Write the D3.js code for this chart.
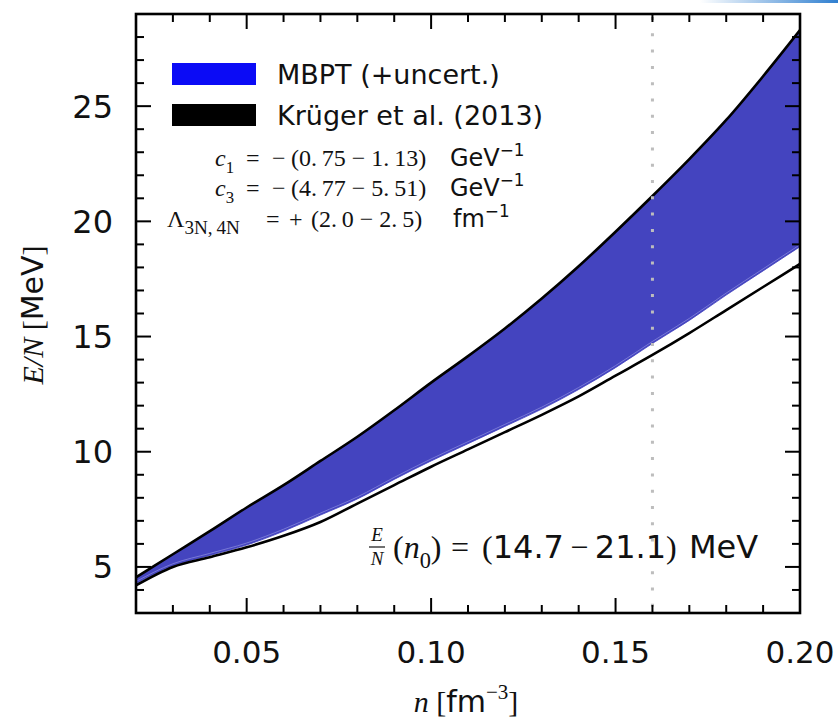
<!DOCTYPE html>
<html>
<head>
<meta charset="utf-8">
<script src="https://cdn.jsdelivr.net/npm/d3@7"></script>
<style>
  body { margin: 0; background: #fff; }
  text { font-family: "DejaVu Sans", sans-serif; fill: #111; }
</style>
</head>
<body>
<div id="chart"></div>
<script>
// neutron matter energy per particle
let density = [0.02, 0.03, 0.04, 0.05, 0.06, 0.07, 0.08, 0.09, 0.10, 0.11,
               0.12, 0.13, 0.14, 0.15, 0.16, 0.17, 0.18, 0.19, 0.20]

let mbptUpper = [4.55, 5.55, 6.55, 7.58, 8.55, 9.6, 10.65, 11.8, 13.0, 14.15,
                 15.35, 16.65, 18.05, 19.55, 21.1, 22.7, 24.4, 26.3, 28.3]
let mbptLower = [4.28, 5.05, 5.5, 5.95, 6.55, 7.25, 7.95, 8.8, 9.6, 10.35,
                 11.1, 11.85, 12.7, 13.65, 14.7, 15.7, 16.8, 17.85, 18.9]

let krugerUpper = [4.55, 5.55, 6.55, 7.58, 8.55, 9.6, 10.65, 11.8, 13.0, 14.15,
                   15.35, 16.65, 18.05, 19.55, 21.1, 22.7, 24.4, 26.3, 28.3]
let krugerLower = [4.2, 5.0, 5.42, 5.85, 6.35, 6.95, 7.75, 8.55, 9.35, 10.1,
                   10.85, 11.6, 12.4, 13.3, 14.2, 15.15, 16.15, 17.15, 18.15]

let xMajor = [0.05, 0.10, 0.15, 0.20]
let xMinor = [0.03, 0.04, 0.06, 0.07, 0.08, 0.09, 0.11, 0.12, 0.13, 0.14, 0.16, 0.17, 0.18, 0.19]
let yMajor = [5, 10, 15, 20, 25]
let yMinor = [4, 6, 7, 8, 9, 11, 12, 13, 14, 16, 17, 18, 19, 21, 22, 23, 24, 26, 27, 28]
let saturation = 0.16

let W = 838, H = 719
let L = 136, R = 800, T = 14, B = 613

let svg = d3.select("#chart").append("svg")
  .attr("width", W)
  .attr("height", H)

// thin blue strip in the top right corner of the original image
let grad = svg.append("defs").append("linearGradient").attr("id", "strip")
grad.append("stop").attr("offset", "0%").attr("stop-color", "#ffffff")
grad.append("stop").attr("offset", "100%").attr("stop-color", "#2f7fd0")
svg.append("rect").attr("x", 700).attr("y", 0).attr("width", 138).attr("height", 3)
   .style("fill", "url(#strip)")

let x = d3.scaleLinear().domain([0.02, 0.20]).range([L, R])
let y = d3.scaleLinear().domain([3, 29]).range([B, T])

let rows = density.map((n, i) => ({
  n: n, mu: mbptUpper[i], ml: mbptLower[i], ku: krugerUpper[i], kl: krugerLower[i]
}))

let clip = svg.append("clipPath").attr("id", "plotclip")
clip.append("rect").attr("x", L).attr("y", T).attr("width", R - L).attr("height", B - T)

let plot = svg.append("g").attr("clip-path", "url(#plotclip)")

let curve = d3.curveMonotoneX

// MBPT band
let band = d3.area()
  .x(d => x(d.n))
  .y0(d => y(d.ml))
  .y1(d => y(d.mu))
  .curve(curve)

plot.append("path")
  .datum(rows)
  .attr("d", band)
  .style("fill", "#4444bf")
  .style("stroke", "#4444bf")
  .style("stroke-width", 0.8)

// faint light edge just inside the lower band border
plot.append("path")
  .datum(rows)
  .attr("d", d3.line().x(d => x(d.n)).y(d => y(d.ml) - 2).curve(curve))
  .style("fill", "none")
  .style("stroke", "#8585dc")
  .style("stroke-width", 0.8)

// Krüger et al. bounds
let upperLine = d3.line().x(d => x(d.n)).y(d => y(d.ku)).curve(curve)
let lowerLine = d3.line().x(d => x(d.n)).y(d => y(d.kl)).curve(curve)

plot.append("path").datum(rows).attr("d", upperLine)
  .style("fill", "none").style("stroke", "#000").style("stroke-width", 2.6)
plot.append("path").datum(rows).attr("d", lowerLine)
  .style("fill", "none").style("stroke", "#000").style("stroke-width", 2.6)

// saturation density marker
plot.append("line")
  .attr("x1", x(saturation)).attr("x2", x(saturation))
  .attr("y1", T + 3).attr("y2", B)
  .style("stroke", "#bdbdbd")
  .style("stroke-width", 3)
  .style("stroke-dasharray", "3,13.3")

// frame
svg.append("rect")
  .attr("x", L).attr("y", T).attr("width", R - L).attr("height", B - T)
  .style("fill", "none").style("stroke", "#000").style("stroke-width", 2.6)

// ticks pointing inwards on all four sides
let tickG = svg.append("g")
function xTicks(vals, len) {
  [[B, -1], [T, 1]].forEach(s => {
    tickG.selectAll(null).data(vals).enter().append("line")
      .attr("x1", d => x(d)).attr("x2", d => x(d))
      .attr("y1", s[0]).attr("y2", s[0] + s[1] * len)
      .attr("stroke", "#000").attr("stroke-width", 2)
  })
}
function yTicks(vals, len) {
  [[L, 1], [R, -1]].forEach(s => {
    tickG.selectAll(null).data(vals).enter().append("line")
      .attr("y1", d => y(d)).attr("y2", d => y(d))
      .attr("x1", s[0]).attr("x2", s[0] + s[1] * len)
      .attr("stroke", "#000").attr("stroke-width", 2)
  })
}
xTicks(xMajor, 15)
xTicks(xMinor, 8)
yTicks(yMajor, 15)
yTicks(yMinor, 8)

// tick labels
svg.append("g").selectAll("text").data(xMajor).enter().append("text")
  .attr("x", d => x(d)).attr("y", B + 50)
  .attr("text-anchor", "middle")
  .style("font-size", "31px")
  .text(d3.format(".2f"))
svg.append("g").selectAll("text").data(yMajor).enter().append("text")
  .attr("x", L - 23).attr("y", d => y(d) + 11.5)
  .attr("text-anchor", "end")
  .style("font-size", "32px")
  .text(d3.format("d"))

// write a run of math-like text pieces into one text element
let serif = "'Liberation Serif', 'DejaVu Serif', serif"
function mathText(xp, yp, size, parts, anchor) {
  let t = svg.append("text").attr("x", xp).attr("y", yp)
    .style("font-size", size + "px")
    .attr("text-anchor", anchor || "start")
  let shift = 0
  parts.forEach(p => {
    let s = t.append("tspan").text(p.t)
    let want = 0
    if (p.k == "sub") want = size * 0.3
    if (p.k == "sup") want = -size * 0.42
    if (want != shift) { s.attr("dy", want - shift); shift = want }
    if (p.x != null) s.attr("x", p.x)
    if (p.k == "i") s.style("font-family", serif).style("font-style", "italic")
    if (p.k == "r") s.style("font-family", serif)
    if (p.k == "sub") s.style("font-family", serif).style("font-size", (size * (p.z || 0.7)) + "px")
    if (p.k == "sup") s.style("font-size", (size * 0.7) + "px")
    if (p.f) s.style("font-family", p.f)
  })
  return t
}

// legend
let legendItems = [
  {label: "MBPT (+uncert.)", color: "#0b0bf6", y: 63},
  {label: "Krüger et al. (2013)", color: "#000000", y: 104}
]
legendItems.forEach(d => {
  svg.append("rect").attr("x", 172).attr("y", d.y).attr("width", 84).attr("height", 22)
    .style("fill", d.color)
  svg.append("text").attr("x", 277).attr("y", d.y + 21)
    .style("font-size", "27px").text(d.label)
})

// parameter ranges
let th = "\u2009", sp = "\u2005"
mathText(215, 166, 24, [
  {t: "c", k: "i"}, {t: "1", k: "sub"}, {t: "=", k: "r", x: 246}, {t: "−", k: "r", x: 272},
  {t: "(0." + th + "75" + sp + "−" + sp + "1." + th + "13)", k: "r", x: 291},
  {t: "GeV", k: "s", x: 450}, {t: "−1", k: "sup"}
])
mathText(215, 196, 24, [
  {t: "c", k: "i"}, {t: "3", k: "sub"}, {t: "=", k: "r", x: 246}, {t: "−", k: "r", x: 272},
  {t: "(4." + th + "77" + sp + "−" + sp + "5." + th + "51)", k: "r", x: 291},
  {t: "GeV", k: "s", x: 450}, {t: "−1", k: "sup"}
])
mathText(167, 227, 24, [
  {t: "Λ", k: "r"}, {t: "3N," + th + "4N", k: "sub", z: 0.8}, {t: "=", k: "r", x: 266},
  {t: "+", k: "r", x: 289},
  {t: "(2." + th + "0" + sp + "−" + sp + "2." + th + "5)", k: "r", x: 311},
  {t: "fm", k: "s", x: 453}, {t: "−1", k: "sup"}
])

// energy at saturation
let fx = 377
svg.append("text").attr("x", fx).attr("y", 541).attr("text-anchor", "middle")
  .style("font-family", serif).style("font-style", "italic").style("font-size", "19px").text("E")
svg.append("line").attr("x1", fx - 8).attr("x2", fx + 8).attr("y1", 547).attr("y2", 547)
  .style("stroke", "#111").style("stroke-width", 1.2)
svg.append("text").attr("x", fx).attr("y", 565).attr("text-anchor", "middle")
  .style("font-family", serif).style("font-style", "italic").style("font-size", "19px").text("N")
mathText(393, 558, 32, [
  {t: "(", k: "r"}, {t: "n", k: "i"}, {t: "0", k: "sub"}, {t: ")", k: "r"},
  {t: "=", k: "r", x: 451}, {t: "(", k: "r", x: 482},
  {t: "14.7", k: "s"}, {t: th + "−" + th, k: "r"}, {t: "21.1", k: "s"}, {t: ")", k: "r"},
  {t: "MeV", k: "s", x: 689}
])

// axis titles
mathText(466, 712, 30, [
  {t: "n", k: "i"}, {t: " [", k: "r"}, {t: "fm", k: "s"}, {t: "−3", k: "sup", f: serif}, {t: "]", k: "r"}
], "middle")

let yt = mathText(0, 0, 30, [
  {t: "E/N", k: "i"}, {t: " [", k: "r"}, {t: "MeV", k: "s"}, {t: "]", k: "r"}
], "middle")
yt.attr("transform", "translate(43,315) rotate(-90)")
</script>
</body>
</html>
